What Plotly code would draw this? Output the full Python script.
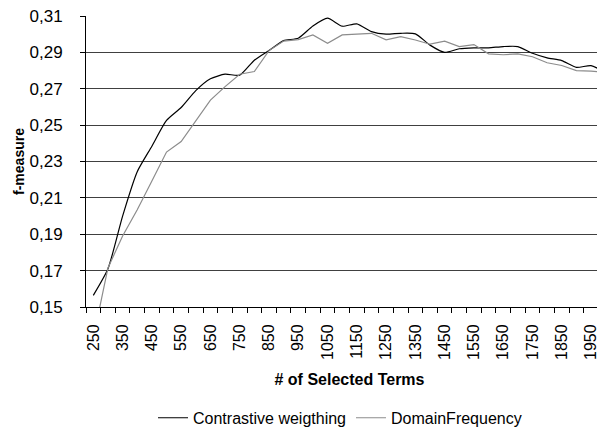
import plotly.graph_objects as go

# ---- data ----
terms = [str(v) for v in range(250, 2001, 50)]
contrastive = [0.1564, 0.1710, 0.2000, 0.2244, 0.2384, 0.2526, 0.2597, 0.2690,
               0.2755, 0.2780, 0.2775, 0.2857, 0.2910, 0.2965, 0.2978, 0.3045,
               0.3088, 0.3044, 0.3057, 0.3014, 0.3000, 0.3005, 0.3002, 0.2940,
               0.2900, 0.2920, 0.2925, 0.2925, 0.2932, 0.2932, 0.2895, 0.2870,
               0.2855, 0.2818, 0.2827, 0.2790]
domain_freq = [0.1330, 0.1715, 0.1890, 0.2035, 0.2193, 0.2352, 0.2410, 0.2525,
               0.2638, 0.2712, 0.2780, 0.2795, 0.2910, 0.2962, 0.2970, 0.2996,
               0.2950, 0.2996, 0.3000, 0.3005, 0.2969, 0.2987, 0.2968, 0.2945,
               0.2962, 0.2932, 0.2943, 0.2892, 0.2887, 0.2892, 0.2876, 0.2843,
               0.2828, 0.2800, 0.2797, 0.2790]
tick_labels = [t if i % 2 == 0 else "" for i, t in enumerate(terms)]

FONT = "Liberation Sans, Arial, sans-serif"

fig = go.Figure()
fig.add_trace(go.Scatter(x=terms, y=contrastive, mode="lines",
                         name="Contrastive weigthing",
                         line=dict(color="black", width=1.2, shape="spline", smoothing=0.6)))
fig.add_trace(go.Scatter(x=terms, y=domain_freq, mode="lines",
                         name="DomainFrequency",
                         line=dict(color="#8c8c8c", width=1.2)))

fig.update_layout(
    width=605, height=429,
    margin=dict(l=78, r=0, t=8, b=130),
    paper_bgcolor="white", plot_bgcolor="white",
    font=dict(family=FONT, size=16, color="black"),
    separators=",.",
    showlegend=True,
    legend=dict(orientation="h", x=0.482, xanchor="center", y=-0.381, yanchor="middle",
                font=dict(size=16), itemwidth=30, bgcolor="rgba(0,0,0,0)"),
)
fig.update_xaxes(
    type="category", categoryorder="array", categoryarray=terms,
    range=[-0.5, 35.5], automargin=False, ticklabeloverflow="allow",
    tickmode="array", tickvals=terms, ticktext=tick_labels,
    tickson="boundaries", ticks="outside", ticklen=5, tickcolor="black",
    tickangle=-90, tickfont=dict(size=16), ticklabelstandoff=10,
    showline=True, linecolor="black", linewidth=1,
    showgrid=False, zeroline=False,
    title=dict(text="<b># of Selected Terms</b>", font=dict(size=16), standoff=14),
)
fig.update_yaxes(
    range=[0.15, 0.31001], dtick=0.02, tick0=0.15, tickformat=".2f", automargin=False,
    ticklabeloverflow="allow",
    ticks="outside", ticklen=5, tickcolor="black", tickfont=dict(size=17),
    ticklabelstandoff=14,
    showline=True, linecolor="black", linewidth=1,
    showgrid=True, gridcolor="#404040", gridwidth=1, zeroline=False,
    title=dict(text="<b>f-measure</b>", font=dict(size=14), standoff=1),
)

fig.write_html("out.html")
